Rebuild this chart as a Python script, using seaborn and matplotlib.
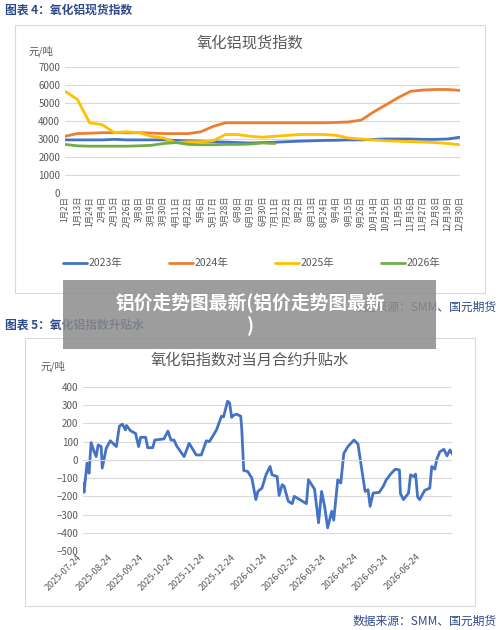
import numpy as np
import pandas as pd
import matplotlib
matplotlib.use("Agg")
import matplotlib.pyplot as plt
import matplotlib.dates as mdates
from matplotlib.patches import Rectangle
import seaborn as sns

tick_labels = ["1月2日","1月13日","1月24日","2月4日","2月15日","2月26日","3月8日","3月19日","3月30日",
               "4月11日","4月22日","5月6日","5月17日","5月28日","6月8日","6月19日","6月30日","7月11日",
               "7月22日","8月2日","8月13日","8月24日","9月4日","9月15日","9月26日","10月14日","10月25日",
               "11月5日","11月16日","11月27日","12月8日","12月19日","12月30日"]
s2023 = [2950,2950,2950,2950,2980,2950,2950,2950,2950,2920,2900,2880,2850,2830,2800,2780,2800,2820,
         2850,2880,2900,2920,2930,2950,2950,2980,3000,3000,3000,2980,2980,3000,3100]
s2024 = [3150,3300,3320,3350,3350,3350,3350,3330,3300,3300,3300,3400,3700,3900,3900,3900,3900,3900,
         3900,3900,3900,3900,3920,3950,4050,4500,4900,5300,5650,5720,5750,5750,5700]
s2025 = [5650,5200,3900,3800,3350,3400,3350,3150,3050,2800,2850,2850,2900,3250,3250,3150,3100,3150,
         3200,3250,3250,3250,3200,3050,3000,2950,2900,2880,2850,2830,2800,2750,2680]
s2026 = [2700,2620,2600,2600,2600,2600,2620,2650,2750,2800,2700,2680,2680,2700,2700,2720,2780,2750] + [np.nan]*15
series_names = ["2023年","2024年","2025年","2026年"]
colors = ["#4472C4","#ED7D31","#FFC000","#70AD47"]

basis_day = [0,1,4,6,8,11,13,15,18,19,23,27,33,36,39,42,43,47,52,55,57,62,64,69,71,80,84,87,90,93,100,105,
             112,117,122,125,132,137,139,143,145,147,149,152,156,157,159,163,167,171,173,177,181,185,187,192,
             194,197,199,203,207,209,221,223,229,233,236,239,242,246,248,252,255,258,262,268,272,279,282,284,
             287,293,297,300,305,309,313,314,317,322,324,327,329,331,333,338,343,345,348,350,353,357,360,363,366,367]
basis_val = [-127,-178,-18,-73,95,45,18,82,73,-45,64,105,73,185,196,164,189,160,145,73,124,124,67,67,109,115,
             158,109,109,73,18,91,27,27,105,100,164,240,236,322,313,233,245,251,240,173,-58,-64,-100,-218,-173,
             -155,-82,-36,-82,-91,-195,-136,-145,-227,-240,-200,-240,-109,-160,-345,-173,-255,-373,-282,-331,
             -109,-127,36,73,109,87,-173,-164,-255,-182,-178,-145,-109,-73,-51,-55,-185,-218,-182,-82,-91,-78,
             -204,-218,-167,-155,-36,-51,4,45,58,22,55,27,55]

sns.set_style("white")
plt.rcParams['font.family'] = ['Noto Sans CJK SC', 'DejaVu Sans']

fig = plt.figure(figsize=(5, 6.3), dpi=100)
W, H = 500, 630
def fx(x): return x / W
def fy(y): return 1 - y / H

navy = "#2E4A8B"
gray = "#595959"
# headers
fig.text(fx(5), fy(10), "图表 4：氧化铝现货指数", color=navy, fontsize=8.5, va="center", fontweight="bold")
fig.text(fx(5), fy(325), "图表 5：氧化铝指数升贴水", color=navy, fontsize=8.5, va="center", fontweight="bold")
fig.text(fx(497), fy(307), "数据来源：SMM、国元期货", color=navy, fontsize=8.5, va="center", ha="right")
fig.text(fx(497), fy(621), "数据来源：SMM、国元期货", color=navy, fontsize=8.5, va="center", ha="right")
for (x0, y0, x1, y1) in [(15, 25, 485, 293), (25, 338, 475, 606)]:
    fig.add_artist(Rectangle((fx(x0), fy(y1)), fx(x1 - x0), (y1 - y0) / H, transform=fig.transFigure,
                             fill=False, edgecolor="#D9D9D9", lw=0.8))

# top chart
ax1 = fig.add_axes([fx(65), fy(193), fx(395), 126 / H])
idx = np.arange(len(tick_labels))
df = pd.DataFrame({"idx": np.tile(idx, 4),
                   "val": s2023 + s2024 + s2025 + s2026,
                   "year": np.repeat(series_names, len(idx))})
sns.lineplot(data=df, x="idx", y="val", hue="year", palette=colors, lw=2, ax=ax1, legend=False)
ax1.set_ylim(0, 7000)
ax1.set_yticks(range(0, 7001, 1000))
ax1.set_xlim(0, len(idx) - 1)
ax1.set_xticks(idx)
ax1.set_xticklabels(tick_labels, rotation=90, fontsize=6, color=gray)
ax1.tick_params(axis="y", labelsize=7, labelcolor=gray, length=0)
ax1.tick_params(axis="x", length=0, pad=2)
ax1.grid(axis="y", color="#D9D9D9", lw=0.8)
for s in ax1.spines.values(): s.set_visible(False)
ax1.set_xlabel(""); ax1.set_ylabel("")
fig.text(fx(250), fy(43), "氧化铝现货指数", fontsize=11, color=gray, ha="center", va="center")
fig.text(fx(28), fy(51), "元/吨", fontsize=7.5, color=gray, va="center")
for i, (n, c) in enumerate(zip(series_names, colors)):
    x0 = 63 + i * 106
    fig.add_artist(plt.Line2D([fx(x0), fx(x0 + 24)], [fy(263), fy(263)], color=c, lw=2, transform=fig.transFigure))
    fig.text(fx(x0 + 26), fy(263), n, fontsize=7.5, color=gray, va="center")

# bottom chart
ax2 = fig.add_axes([fx(83), fy(551), fx(369), 164 / H])
dates = pd.Timestamp("2025-07-24") + pd.to_timedelta(basis_day, unit="D")
db = pd.DataFrame({"date": dates, "val": basis_val})
sns.lineplot(data=db, x="date", y="val", color="#4472C4", lw=2, ax=ax2)
ax2.set_ylim(-500, 400)
ax2.set_yticks(range(-500, 401, 100))
ax2.set_xlim(pd.Timestamp("2025-07-24"), pd.Timestamp("2026-07-24"))
ticks = pd.date_range("2025-07-24", periods=12, freq=pd.DateOffset(months=1))
ax2.set_xticks(ticks)
ax2.set_xticklabels([t.strftime("%Y-%m-%d") for t in ticks], rotation=45, ha="right", fontsize=6.5, color=gray)
ax2.tick_params(axis="y", labelsize=7, labelcolor=gray, length=0)
ax2.tick_params(axis="x", length=0, pad=1)
ax2.grid(axis="y", color="#D9D9D9", lw=0.8)
ax2.axhline(0, color="#D9D9D9", lw=0.8)
for s in ax2.spines.values(): s.set_visible(False)
ax2.set_xlabel(""); ax2.set_ylabel("")
fig.text(fx(250), fy(360), "氧化铝指数对当月合约升贴水", fontsize=11, color=gray, ha="center", va="center")
fig.text(fx(40), fy(366), "元/吨", fontsize=7.5, color=gray, va="center")

# overlay banner
fig.add_artist(Rectangle((fx(63), fy(349)), fx(373), 69 / H, transform=fig.transFigure,
                         facecolor="#8C8C8C", alpha=0.85, edgecolor="none", zorder=10))
fig.text(fx(250), fy(314), "铝价走势图最新(铝价走势图最新\n)", fontsize=13.5, color="white", fontweight="bold",
         ha="center", va="center", zorder=11, linespacing=1.3)

fig.savefig("out.png", dpi=100)
